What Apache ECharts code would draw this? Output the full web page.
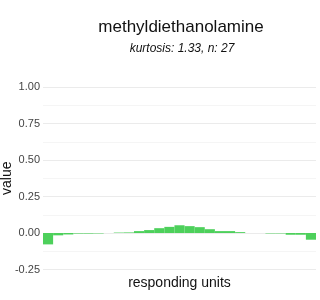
<!DOCTYPE html>
<html>
<head>
<meta charset="utf-8">
<script src="https://cdn.jsdelivr.net/npm/echarts@6/dist/echarts.min.js"></script>
<style>html,body{margin:0;padding:0;background:#fff}#c{width:320px;height:300px}</style>
</head>
<body>
<div id="c"></div>
<script>
var categories = ['1','2','3','4','5','6','7','8','9','10','11','12','13','14','15','16','17','18','19','20','21','22','23','24','25','26','27'];
var values = [-0.078, -0.016, -0.010, -0.004, -0.004, -0.003, 0.0, 0.003, 0.004, 0.013, 0.02, 0.033, 0.042, 0.053, 0.047, 0.04, 0.026, 0.013, 0.013, 0.006, 0.0, 0.0, -0.003, -0.003, -0.012, -0.012, -0.046];
var yTicks = [-0.25, 0, 0.25, 0.5, 0.75, 1.0];
var titleText = 'methyldiethanolamine';
var subtitleText = 'kurtosis: 1.33, n: 27';
var xName = 'responding units';
var yName = 'value';

var font = '"Liberation Sans", Arial, sans-serif';
var chart = echarts.init(document.getElementById('c'), null, {renderer: 'canvas'});
chart.setOption({
  animation: false,
  backgroundColor: '#fff',
  title: [
    {text: titleText, left: 181, top: 19, textAlign: 'center', padding: 0,
     textStyle: {fontFamily: font, fontSize: 17, fontWeight: 'normal', color: '#111'}},
    {text: subtitleText, left: 182, top: 43, textAlign: 'center', padding: 0,
     textStyle: {fontFamily: font, fontSize: 12, fontStyle: 'italic', fontWeight: 'normal', color: '#111'}}
  ],
  grid: {left: 43, right: 4, top: 87, bottom: 30.5, containLabel: false, outerBoundsMode: 'none'},
  xAxis: {
    type: 'category', data: categories,
    axisLine: {show: false}, axisTick: {show: false}, axisLabel: {show: false},
    splitLine: {show: false},
    name: xName, nameLocation: 'middle', nameGap: 7, nameMoveOverlap: false,
    nameTextStyle: {fontFamily: font, fontSize: 14, color: '#111', verticalAlign: 'top'}
  },
  yAxis: {
    type: 'value', min: yTicks[0], max: yTicks[yTicks.length - 1], interval: 0.25,
    axisLine: {show: false}, axisTick: {show: false},
    axisLabel: {fontFamily: font, fontSize: 11, color: '#444', margin: 3,
      formatter: function (v) { return v.toFixed(2); }},
    splitLine: {show: true, lineStyle: {color: '#ebebeb', width: 1}},
    minorTick: {show: false, splitNumber: 2},
    minorSplitLine: {show: true, lineStyle: {color: '#f5f5f5', width: 1}},
    name: yName, nameLocation: 'middle', nameGap: 29, nameRotate: 90, nameMoveOverlap: false,
    nameTextStyle: {fontFamily: font, fontSize: 14, color: '#111'}
  },
  series: [{
    type: 'bar', data: values, barCategoryGap: '0%',
    itemStyle: {color: '#4dd05b'}
  }]
});
</script>
</body>
</html>
